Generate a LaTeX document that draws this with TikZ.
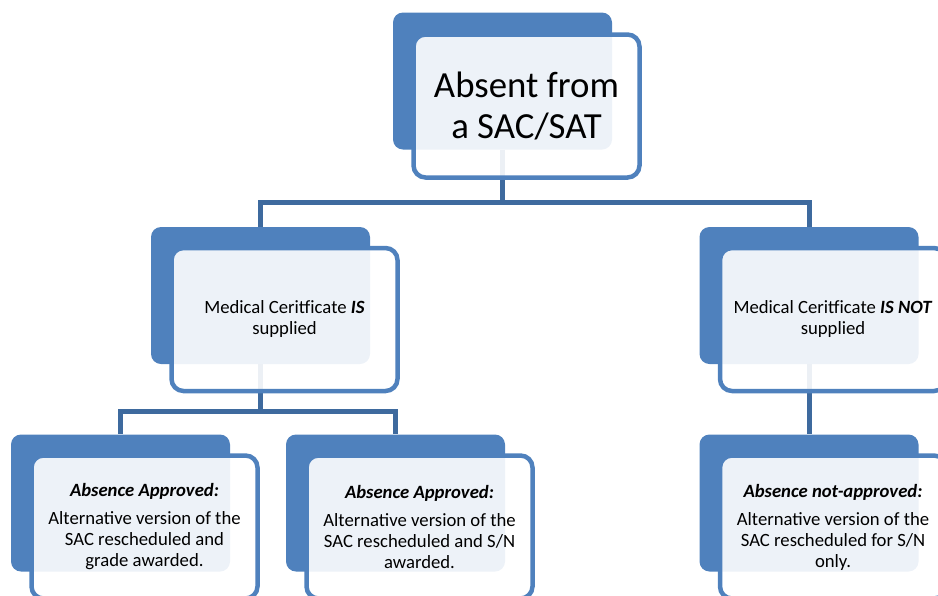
\documentclass[tikz,border=0pt]{standalone}
\usepackage{fontspec}
\setmainfont{Carlito}
\usepackage{tikz}
\usetikzlibrary{shapes,arrows,positioning}

\definecolor{boxblue}{RGB}{79,129,189}
\definecolor{lineblue}{RGB}{62,106,158}

\begin{document}
\begin{tikzpicture}[x=1pt,y=-1pt,
	backbox/.style={fill=boxblue,draw=none,rounded corners=10pt,minimum width=219pt,minimum height=137pt,inner sep=0pt},
	frontbox/.style={draw=boxblue,line width=4.5pt,fill=white,fill opacity=0.9,text opacity=1,rounded corners=12pt,minimum width=226pt,minimum height=143pt,inner sep=0pt,align=center,font=\fontsize{18.7}{21}\selectfont},
	conn/.style={draw=lineblue,line width=5pt}]
	% the page
	\useasboundingbox (0,0) rectangle (938,595);
	\clip (0,0) rectangle (938,595);
	%% the back boxes
	\node[backbox] (absback) at (502.5,81) {};
	\node[backbox] (isback) at (260.5,295.5) {};
	\node[backbox] (notback) at (809,295.5) {};
	\node[backbox] (gradeback) at (120.5,503) {};
	\node[backbox] (snback) at (395.5,503) {};
	\node[backbox] (onlyback) at (809,503) {};
	%% the connectors
	\draw[conn] (absback.south) -- ++(0,53) -| (isback.north);
	\draw[conn] (absback.south) -- ++(0,53) -| (notback.north);
	\draw[conn] (isback.south) -- ++(0,47) -| (gradeback.north);
	\draw[conn] (isback.south) -- ++(0,47) -| (snback.north);
	\draw[conn] (notback.south) -- (onlyback.north);
	%% the front boxes with the texts
	\node[frontbox,font=\fontsize{36.8}{41}\selectfont] (absfront) at ([shift={(24,25)}]absback.center) {Absent from\\a SAC/SAT};
	\node[frontbox] (isfront) at ([shift={(24,24)}]isback.center) {Medical Ceritficate \textbf{\textit{IS}}\\supplied};
	\node[frontbox] (notfront) at ([shift={(24,24)}]notback.center) {Medical Ceritficate \textbf{\textit{IS NOT}}\\supplied};
	\node[frontbox] (gradefront) at ([shift={(24,24)}]gradeback.center) {\textbf{\textit{Absence Approved:}}\\[7pt]Alternative version of the\\SAC rescheduled and\\grade awarded.};
	\node[frontbox] (snfront) at ([shift={(24,24)}]snback.center) {\textbf{\textit{Absence Approved:}}\\[7pt]Alternative version of the\\SAC rescheduled and S/N\\awarded.};
	\node[frontbox] (onlyfront) at ([shift={(24,24)}]onlyback.center) {\textbf{\textit{Absence not-approved:}}\\[7pt]Alternative version of the\\SAC rescheduled for S/N\\only.};
\end{tikzpicture}
\end{document}
